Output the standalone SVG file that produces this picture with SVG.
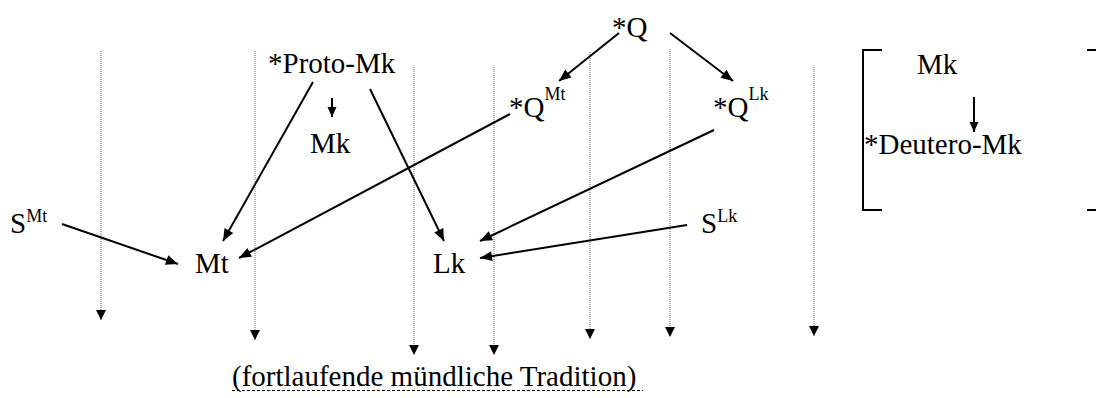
<svg xmlns="http://www.w3.org/2000/svg" width="1096" height="398" viewBox="0 0 1096 398">
<style>
text { font-family: "Liberation Serif", "Times New Roman", serif; font-size: 29px; fill: #000; }
.sup { font-size: 18px; }
.edge { stroke: #000; stroke-width: 2; fill: none; marker-end: url(#ah); }
.small { stroke: #000; stroke-width: 2; fill: none; marker-end: url(#ahs); }
.dot { stroke: #666; stroke-width: 1; stroke-dasharray: 1 1; fill: none; marker-end: url(#ahd); }
.br { stroke: #000; stroke-width: 2; fill: none; }
</style>
<defs>
<marker id="ah" markerUnits="userSpaceOnUse" markerWidth="13" markerHeight="11" refX="12" refY="5" orient="auto" overflow="visible">
<path d="M0,0 L12,5 L0,10 Z" fill="#000"/>
</marker>
<marker id="ahs" markerUnits="userSpaceOnUse" markerWidth="11" markerHeight="9" refX="10" refY="4.5" orient="auto" overflow="visible">
<path d="M0,0 L10,4.5 L0,9 Z" fill="#000"/>
</marker>
<marker id="ahd" markerUnits="userSpaceOnUse" markerWidth="11" markerHeight="11" refX="10" refY="5" orient="auto" overflow="visible">
<path d="M0,0 L10,5 L0,10 Z" fill="#000"/>
</marker>
</defs>
<rect width="1096" height="398" fill="#fff"/>

<g id="connectors">
  <line class="dot" x1="101" y1="51" x2="101" y2="320"/>
  <line class="dot" x1="255" y1="51" x2="255" y2="340"/>
  <line class="dot" x1="414" y1="67" x2="414" y2="355"/>
  <line class="dot" x1="494" y1="67" x2="494" y2="355"/>
  <line class="dot" x1="590" y1="52" x2="590" y2="339"/>
  <line class="dot" x1="670" y1="49" x2="670" y2="337"/>
  <line class="dot" x1="814" y1="67" x2="814" y2="336"/>
  <line class="edge" x1="619" y1="33" x2="559" y2="81"/>
  <line class="edge" x1="670" y1="33" x2="733" y2="81"/>
  <line class="small" x1="332" y1="98" x2="332" y2="117"/>
  <line class="edge" x1="313" y1="82" x2="223" y2="241"/>
  <line class="edge" x1="370" y1="89" x2="444" y2="241"/>
  <line class="edge" x1="510" y1="114" x2="239" y2="258"/>
  <line class="edge" x1="714" y1="130" x2="480" y2="241"/>
  <line class="edge" x1="62" y1="224" x2="178" y2="264"/>
  <line class="edge" x1="687" y1="225" x2="480" y2="258"/>
  <line class="small" x1="974" y1="97" x2="974" y2="132"/>
</g>

<g id="node-Q"><text x="612" y="37">*Q</text></g>
<g id="node-QMt"><text x="509" y="117">*Q<tspan class="sup" dy="-17">Mt</tspan></text></g>
<g id="node-QLk"><text x="713" y="117">*Q<tspan class="sup" dy="-17">Lk</tspan></text></g>
<g id="node-ProtoMk"><text x="268" y="73">*Proto-Mk</text></g>
<g id="node-Mk"><text x="310" y="153">Mk</text></g>
<g id="node-SMt"><text x="10" y="233">S<tspan class="sup" dy="-11">Mt</tspan></text></g>
<g id="node-Mt"><text x="195" y="273">Mt</text></g>
<g id="node-Lk"><text x="433" y="273">Lk</text></g>
<g id="node-SLk"><text x="701" y="233">S<tspan class="sup" dy="-11">Lk</tspan></text></g>

<g id="bracket-group">
  <path class="br" d="M882,50 H863 V210 H882"/>
  <path class="br" d="M1087,50 H1096 M1087,210 H1096"/>
  <g id="node-Mk2"><text x="917" y="74">Mk</text></g>
  <g id="node-DeuteroMk"><text x="864" y="154">*Deutero-Mk</text></g>
</g>

<g id="label-tradition">
  <text x="232" y="386">(fortlaufende mündliche Tradition)</text>
  <line x1="232" y1="390.5" x2="643" y2="390.5" stroke="#000" stroke-width="1" stroke-dasharray="3 2"/>
</g>
</svg>
